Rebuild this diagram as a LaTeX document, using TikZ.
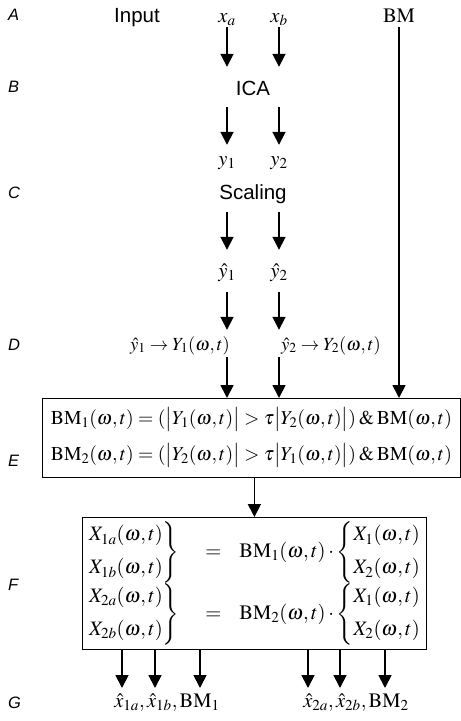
\documentclass[tikz,border=0pt]{standalone}
\usepackage{mathptmx}
\usepackage{fontspec}
\setmainfont{Liberation Serif}
\setsansfont{Liberation Sans}
\usetikzlibrary{arrows.meta}

\begin{document}
\begin{tikzpicture}[x=1pt,y=-1pt,
  font=\fontsize{20.5}{24}\selectfont,
  rowlbl/.style={anchor=base west,inner sep=0pt,font=\fontsize{16.5}{19}\selectfont\sffamily\itshape},
  stage/.style={anchor=base,inner xsep=2pt,inner ysep=0pt,font=\fontsize{20.5}{24}\selectfont\sffamily},
  sig/.style={anchor=base,inner xsep=1pt,inner ysep=0pt},
  blk/.style={draw,line width=0.8pt,inner sep=0pt,anchor=north west},
  arr/.style={-{Triangle[width=13pt,length=13pt]},line width=1.8pt}
]
\useasboundingbox (0,0) rectangle (461,721);
% row letters
\foreach \l/\y in {A/20,B/92,C/198,D/350,E/466,F/590,G/708}
  \node[rowlbl] (lbl\l) at (8,\y) {\l};
% A: inputs
\node[stage,text height=15pt,text depth=5pt] (input) at (137,22) {Input};
\node[sig,text height=12pt,text depth=5pt] (xa) at (227,22) {$x_a$};
\node[sig,text height=12pt,text depth=5pt] (xb) at (279,22) {$x_b$};
\node[sig,text height=14pt,text depth=5pt] (bm) at (399,22) {$\mathrm{BM}$};
% B, C
\node[stage,text height=28pt,text depth=12pt] (ica) at (253,95) {ICA};
\node[sig,text height=20pt,text depth=5pt] (y1) at (227,165) {$y_1$};
\node[sig,text height=20pt,text depth=5pt] (y2) at (279,165) {$y_2$};
\node[stage,text height=15pt,text depth=13pt] (scal) at (253,199) {Scaling};
\node[sig,text height=27pt,text depth=15pt] (yh1) at (227,277) {$\hat{y}_1$};
\node[sig,text height=27pt,text depth=15pt] (yh2) at (279,277) {$\hat{y}_2$};
% D
\node[sig,text height=20pt,text depth=7pt,font=\fontsize{18.5}{22}\selectfont] (d1) at (180,350) {$\hat{y}_1\rightarrow Y_1(\omega,t)$};
\node[sig,text height=20pt,text depth=7pt,font=\fontsize{18.5}{22}\selectfont] (d2) at (331,350) {$\hat{y}_2\rightarrow Y_2(\omega,t)$};
% E
\node[blk,minimum width=418pt,minimum height=79pt,font=\fontsize{19.7}{24}\selectfont] (E) at (42,398) {$\begin{array}{@{}l@{}}
  \mathrm{BM}_1(\omega,t)=(\bigl|Y_1(\omega,t)\bigr|>\tau\bigl|Y_2(\omega,t)\bigr|)\mathbin{\&}\mathrm{BM}(\omega,t)\\[12pt]
  \mathrm{BM}_2(\omega,t)=(\bigl|Y_2(\omega,t)\bigr|>\tau\bigl|Y_1(\omega,t)\bigr|)\mathbin{\&}\mathrm{BM}(\omega,t)
  \end{array}$};
% F
\node[blk,minimum width=344pt,minimum height=132pt] (F) at (82,517) {$\begin{array}{@{}l@{\hspace{26pt}}c@{\hspace{18pt}}l@{}}
  \left.\begin{array}{@{}l@{}}X_{1a}(\omega,t)\\[9pt] X_{1b}(\omega,t)\end{array}\right\} & = &
  \mathrm{BM}_1(\omega,t)\cdot\left\{\begin{array}{@{}l@{}}X_1(\omega,t)\\[9pt] X_2(\omega,t)\end{array}\right.\\[9pt]
  \left.\begin{array}{@{}l@{}}X_{2a}(\omega,t)\\[9pt] X_{2b}(\omega,t)\end{array}\right\} & = &
  \mathrm{BM}_2(\omega,t)\cdot\left\{\begin{array}{@{}l@{}}X_1(\omega,t)\\[9pt] X_2(\omega,t)\end{array}\right.
  \end{array}$};
% G: outputs
\node[sig,text height=19pt,text depth=4pt] (g1) at (167,707) {$\hat{x}_{1a},\hat{x}_{1b},\mathrm{BM}_1$};
\node[sig,text height=19pt,text depth=4pt] (g2) at (356,707) {$\hat{x}_{2a},\hat{x}_{2b},\mathrm{BM}_2$};
\foreach \c/\x in {t1a/122,t1b/155,tbm1/200,t2a/308,t2b/340,tbm2/385}
  \coordinate (\c) at (\x,688);
% connectors
\draw[arr] (xa) -- (xa |- ica.north);
\draw[arr] (xb) -- (xb |- ica.north);
\draw[arr] (ica.south -| y1) -- (y1);
\draw[arr] (ica.south -| y2) -- (y2);
\draw[arr] (scal.south -| yh1) -- (yh1);
\draw[arr] (scal.south -| yh2) -- (yh2);
\draw[arr] (yh1) -- (yh1 |- d1.north);
\draw[arr] (yh2) -- (yh2 |- d2.north);
\draw[arr] (d1.south -| yh1) -- (yh1 |- E.north);
\draw[arr] (d2.south -| yh2) -- (yh2 |- E.north);
\draw[arr] (bm) -- (bm |- E.north);
\draw[arr] (E.south -| F.north) -- (F.north);
\foreach \c in {t1a,t1b,tbm1,t2a,t2b,tbm2}
  \draw[arr] (F.south -| \c) -- (\c);
\end{tikzpicture}
\end{document}
